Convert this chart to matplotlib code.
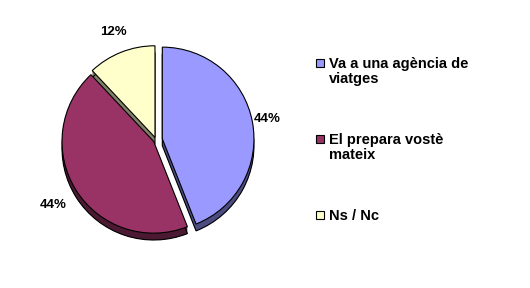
import matplotlib.pyplot as plt
import numpy as np

# data
labels = ['Va a una agència de\nviatges', 'El prepara vostè\nmateix', 'Ns / Nc']
values = [44, 44, 12]
colors = ['#9999FF', '#993366', '#FFFFCC']
side_colors = ['#4C4C80', '#4C1933', '#808066']
explode = [0.07, 0.03, 0.03]
label_dist = [1.16, 1.30, 1.24]

plt.rcParams['font.family'] = ['Liberation Sans', 'DejaVu Sans']

fig = plt.figure(figsize=(5.3, 2.88), dpi=100)
fig.patch.set_facecolor('white')

# pie axes placed in pixels so radius 1 ~ 92 px
ax = fig.add_axes([46 / 530, 38 / 288, 220 / 530, 220 / 288])

depth = 0.075
# extruded side: stack of darker copies shifted down
for d in np.linspace(depth, 0.01, 8):
    ax.pie(values, colors=side_colors, explode=explode, startangle=90,
           counterclock=False, center=(0, -d),
           wedgeprops=dict(linewidth=0))
ax.pie(values, colors=side_colors, explode=explode, startangle=90,
       counterclock=False, center=(0, -depth),
       wedgeprops=dict(linewidth=0.8, edgecolor='black'))

# top face with percentage labels
wedges, texts, autotexts = ax.pie(
    values, colors=colors, explode=explode, startangle=90,
    counterclock=False, autopct='%1.0f%%', pctdistance=1.2,
    wedgeprops=dict(linewidth=0.8, edgecolor='black'),
    textprops=dict(fontsize=9.5, fontweight='bold', color='black'))

# push each label out to its own distance, like the original
for w, t, dist in zip(wedges, autotexts, label_dist):
    th = np.deg2rad((w.theta1 + w.theta2) / 2)
    t.set_position((w.center[0] + dist * np.cos(th), w.center[1] + dist * np.sin(th)))

ax.set_xlim(-1.2, 1.2)
ax.set_ylim(-1.2, 1.2)
ax.set_aspect('equal')
ax.axis('off')

# legend drawn by hand on the right (baseline of first line in px from top)
legend_base = [68, 144, 220]
for lab, col, y in zip(labels, colors, legend_base):
    fig.patches.append(plt.Rectangle((316 / 530, 1 - (y - 1) / 288), 8 / 530, 8 / 288,
                                     transform=fig.transFigure, facecolor=col,
                                     edgecolor='black', linewidth=0.8))
    for i, line in enumerate(lab.split('\n')):
        fig.text(329 / 530, 1 - (y + 15 * i) / 288, line, fontsize=10.5,
                 fontweight='bold', va='baseline', ha='left')

fig.savefig('out.png', dpi=100, facecolor='white')
